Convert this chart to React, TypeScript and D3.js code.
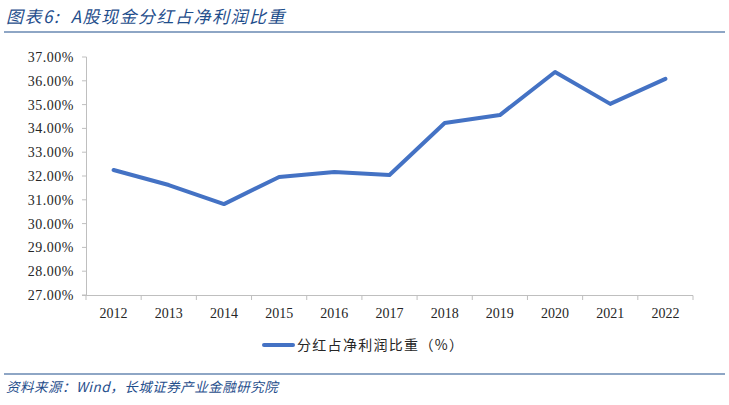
import React from "react";
import * as d3 from "d3";

const years = ["2012","2013","2014","2015","2016","2017","2018","2019","2020","2021","2022"];
const ratio = [32.25, 31.62, 30.82, 31.96, 32.17, 32.04, 34.23, 34.56, 36.37, 35.03, 36.08];
const yTicks = [27, 28, 29, 30, 31, 32, 33, 34, 35, 36, 37];
const title = "图表6:\u00a0\u00a0A股现金分红占净利润比重";
const seriesName = "分红占净利润比重（%）";
const source = "资料来源：Wind，长城证券产业金融研究院";

export default function App() {
  const W = 729, H = 405;
  const x = d3.scaleBand().domain(years).range([86, 693]);
  const y = d3.scaleLinear().domain([27, 37]).range([295, 57]);
  const line = d3.line<number>()
    .x((_, i) => (x(years[i]) as number) + x.bandwidth() / 2)
    .y(d => y(d));
  const serif = "Liberation Serif, DejaVu Serif, serif";
  const cjk = "Noto Sans CJK SC, sans-serif";
  const blue = "#1f4e8c";
  return (
    <svg width={W} height={H} style={{ position: "absolute", left: 0, top: 0, background: "#fff" }}>
      <text x={6} y={23} fill={blue} fontFamily={cjk} fontStyle="italic" fontSize={17} letterSpacing={1.5}>{title}</text>
      <line x1={4} x2={725} y1={32} y2={32} stroke={blue} strokeWidth={1.2} />
      <line x1={86.5} x2={86.5} y1={y(37)} y2={y(27)} stroke="#bfbfbf" strokeWidth={1} />
      {yTicks.map(t => (
        <g key={t}>
          <line x1={82} x2={86.5} y1={y(t)} y2={y(t)} stroke="#bfbfbf" />
          <text x={74} y={y(t)} dy="0.35em" textAnchor="end" fontFamily={serif} fontSize={14} letterSpacing={0.5} fill="#262626">{t.toFixed(2)}%</text>
        </g>
      ))}
      <line x1={82} x2={693} y1={295.5} y2={295.5} stroke="#bfbfbf" />
      {years.map(yr => (
        <line key={"t" + yr} x1={x(yr) as number} x2={x(yr) as number} y1={295.5} y2={300} stroke="#bfbfbf" />
      ))}
      <line x1={693} x2={693} y1={295.5} y2={300} stroke="#bfbfbf" />
      {years.map(yr => (
        <text key={yr} x={(x(yr) as number) + x.bandwidth() / 2} y={318} textAnchor="middle" fontFamily={serif} fontSize={14} fill="#262626">{yr}</text>
      ))}
      <path d={line(ratio) || ""} fill="none" stroke="#4472c4" strokeWidth={4} strokeLinejoin="round" strokeLinecap="round" />
      <line x1={264} x2={293} y1={345} y2={345} stroke="#4472c4" strokeWidth={4} strokeLinecap="round" />
      <text x={297} y={350} fontFamily={cjk} fontSize={14} letterSpacing={1.3} fill="#262626">{seriesName}</text>
      <line x1={4} x2={725} y1={374} y2={374} stroke={blue} strokeWidth={1.2} />
      <text x={6} y={392} fill={blue} fontFamily={cjk} fontStyle="italic" fontSize={13.5} letterSpacing={0.5}>{source}</text>
    </svg>
  );
}
